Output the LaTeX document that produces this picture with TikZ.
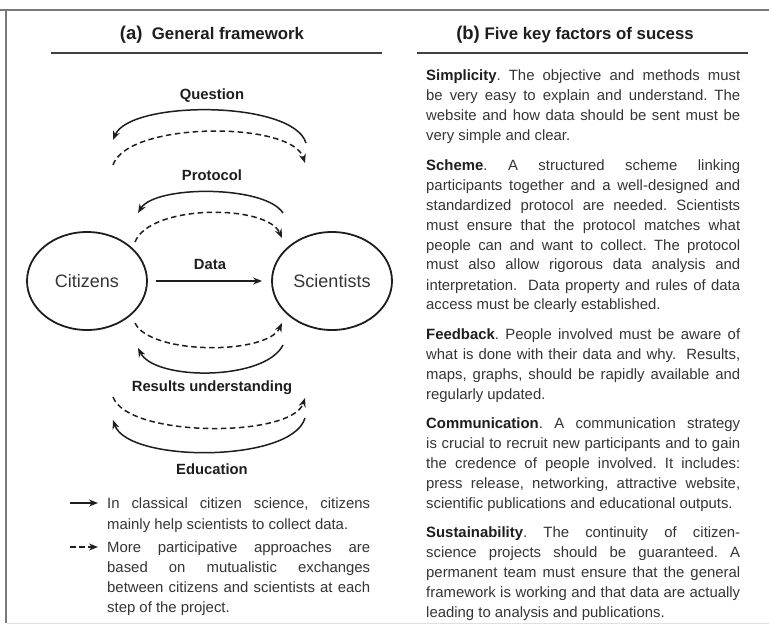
\documentclass[tikz,border=0pt]{standalone}
\usepackage{fontspec}
\setmainfont{Liberation Sans}
\usetikzlibrary{arrows.meta,shapes.geometric}
\definecolor{ink}{HTML}{353535}
\definecolor{inkd}{HTML}{1E1E1E}
\definecolor{framec}{HTML}{7A7A7A}
\newcommand\jR[1]{\hbox to 314pt{#1}}
\newcommand\jL[1]{\hbox to 263pt{#1}}
\newcommand\lastl[1]{\hbox{#1}}
\newcommand\bw[1]{\textcolor{inkd}{\bfseries #1}}
\frenchspacing
\begin{document}
\begin{tikzpicture}[x=1pt,y=-1pt,
  every node/.style={inner sep=0pt, text=ink},
  txt/.style={font=\fontsize{14.9}{20}\selectfont\frenchspacing},
  lab/.style={font=\fontsize{14.8}{18}\selectfont\bfseries, text=inkd},
  hdr/.style={font=\fontsize{16.8}{20}\selectfont\bfseries, text=inkd},
  actor/.style={ellipse, draw=inkd, line width=1.8pt, minimum width=120pt, minimum height=98pt, font=\fontsize{18}{22}\selectfont},
  conn/.style={draw=inkd, line width=1.5pt, -{Stealth[length=9pt,width=7pt]}},
  dconn/.style={conn, dash pattern=on 5.5pt off 3.5pt},
  rulel/.style={draw=inkd!85, line width=1.8pt},
  para/.style={txt, anchor=base west},
]
\fill[white] (0,0) rectangle (769,626);
\path[use as bounding box] (0,0) rectangle (769,626);
% frame
\draw[framec, line width=2.4pt] (0,10) -- (769,10);
\draw[framec, line width=2.2pt] (6,9) -- (6,623);
\draw[black!12, line width=1pt] (7,623) -- (769,623);

% headers
\node[hdr] (ha) at (212,35) {{\fontsize{18.5}{20}\selectfont(a)}\ \ General framework};
\draw[rulel] (51,53) -- (382,53);
\node[hdr] (hb) at (575,35) {{\fontsize{18.5}{20}\selectfont(b)} Five key factors of sucess};
\draw[rulel] (417,53) -- (748,53);

% actors
\node[actor] (cit) at (87,281) {Citizens};
\node[actor] (sci) at (332,281) {Scientists};
\draw[conn, shorten <=8pt, shorten >=9pt] (cit) -- (sci);
\node[lab] (datal) at (210,264) {Data};

% Question
\node[lab] (ql) at (212,96) {Question};
\coordinate (qa) at (306,143);
\coordinate (qb) at (113,140);
\coordinate (qc) at (113,165);
\coordinate (qd) at (305,163);
\draw[conn] (qa) .. controls (293,100) and (130,100) .. (qb);
\draw[dconn] (qc) .. controls (128,121) and (292,121) .. (qd);

% Protocol
\node[lab] (pl) at (212,175) {Protocol};
\coordinate (pa) at (283,213);
\coordinate (pb) at (138,213);
\coordinate (pc) at (135,242);
\coordinate (pd) at (282,238);
\draw[conn] (pa) .. controls (265,185) and (155,185) .. (pb);
\draw[dconn] (pc) .. controls (150,204) and (267,204) .. (pd);

% Results understanding
\coordinate (ra) at (135,323);
\coordinate (rb) at (282,323);
\coordinate (rc) at (283,345);
\coordinate (rd) at (138,348);
\draw[dconn] (ra) .. controls (150,355) and (267,355) .. (rb);
\draw[conn] (rc) .. controls (265,381) and (155,381) .. (rd);
\node[lab] (rl) at (212,388) {Results understanding};

% Education
\coordinate (ea) at (113,397);
\coordinate (eb) at (305,398);
\coordinate (ec) at (305,418);
\coordinate (ed) at (113,420);
\draw[dconn] (ea) .. controls (128,438) and (292,438) .. (eb);
\draw[conn] (ec) .. controls (292,463) and (128,463) .. (ed);
\node[lab] (el) at (212,469) {Education};

% legend
\coordinate (la) at (70,503);
\coordinate (lb) at (98,503);
\coordinate (lc) at (70,547);
\coordinate (ld) at (98,547);
\draw[conn] (la) -- (lb);
\draw[dconn] (lc) -- (ld);
\node[para] (leg1) at (107,508) {\vtop{\baselineskip=21pt
\jL{In classical citizen science, citizens}%
\lastl{mainly help scientists to collect data.}}};
\node[para] (leg2) at (107,552) {\vtop{\baselineskip=20.3pt
\jL{More participative approaches are}%
\jL{based on mutualistic exchanges}%
\jL{between citizens and scientists at each}%
\lastl{step of the project.}}};

% right column
\node[para] (p1) at (426,81) {\vtop{%
\jR{\bw{Simplicity}. The objective and methods must}%
\jR{be very easy to explain and understand. The}%
\jR{website and how data should be sent must be}%
\lastl{very simple and clear.}}};
\node[para] (p2) at (426,170) {\vtop{%
\jR{\bw{Scheme}. A structured scheme linking}%
\jR{participants together and a well-designed and}%
\jR{standardized protocol are needed. Scientists}%
\jR{must ensure that the protocol matches what}%
\jR{people can and want to collect. The protocol}%
\jR{must also allow rigorous data analysis and}%
\jR{interpretation.\ \ Data property and rules of data}%
\lastl{access must be clearly established.}}};
\node[para] (p3) at (426,339) {\vtop{%
\jR{\bw{Feedback}. People involved must be aware of}%
\jR{what is done with their data and why.\ \ Results,}%
\jR{maps, graphs, should be rapidly available and}%
\lastl{regularly updated.}}};
\node[para] (p4) at (426,428) {\vtop{%
\jR{\bw{Communication}. A communication strategy}%
\jR{is crucial to recruit new participants and to gain}%
\jR{the credence of people involved. It includes:}%
\jR{press release, networking, attractive website,}%
\lastl{scientific publications and educational outputs.}}};
\node[para] (p5) at (426,537) {\vtop{%
\jR{\bw{Sustainability}. The continuity of citizen-}%
\jR{science projects should be guaranteed. A}%
\jR{permanent team must ensure that the general}%
\jR{framework is working and that data are actually}%
\lastl{leading to analysis and publications.}}};
\end{tikzpicture}
\end{document}
